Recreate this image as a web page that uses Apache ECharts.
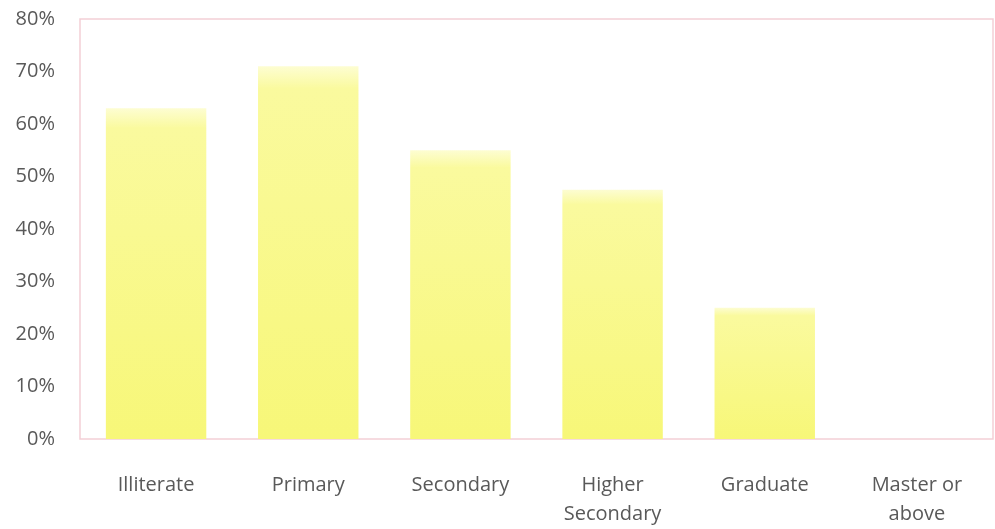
<!DOCTYPE html>
<html>
<head>
<meta charset="utf-8">
<style>
  html, body { margin: 0; padding: 0; background: #fff; }
  #chart { width: 995px; height: 529px; }
</style>
<script src="https://cdn.jsdelivr.net/npm/echarts@6/dist/echarts.min.js"></script>
</head>
<body>
<div id="chart"></div>
<script>
const categories = ['Illiterate', 'Primary', 'Secondary', 'Higher\nSecondary', 'Graduate', 'Master or\nabove']
const values = [63, 71, 55, 47.5, 25, 0]

const chart = echarts.init(document.getElementById('chart'))
chart.setOption({
  animation: false,
  grid: {
    left: 80,
    right: 2,
    top: 19,
    bottom: 88,
    show: true,
    borderColor: '#f3cfd6',
    borderWidth: 1.5
  },
  xAxis: {
    type: 'category',
    data: categories,
    axisLine: { show: false },
    axisTick: { show: false },
    axisLabel: {
      color: '#595959',
      fontFamily: 'Open Sans',
      fontSize: 20,
      lineHeight: 29,
      margin: 32
    }
  },
  yAxis: {
    type: 'value',
    min: 0,
    max: 80,
    interval: 10,
    splitLine: { show: false },
    axisLine: { show: false },
    axisTick: { show: false },
    axisLabel: {
      formatter: '{value}%',
      color: '#595959',
      fontFamily: 'Open Sans',
      fontSize: 20,
      margin: 25
    }
  },
  series: [{
    type: 'bar',
    data: values,
    barWidth: '66%',
    itemStyle: {
      color: new echarts.graphic.LinearGradient(0, 0, 0, 1, [
        { offset: 0, color: '#fdfdd2' },
        { offset: 0.06, color: '#fafa9e' },
        { offset: 1, color: '#f7f778' }
      ])
    }
  }]
})
</script>
</body>
</html>
